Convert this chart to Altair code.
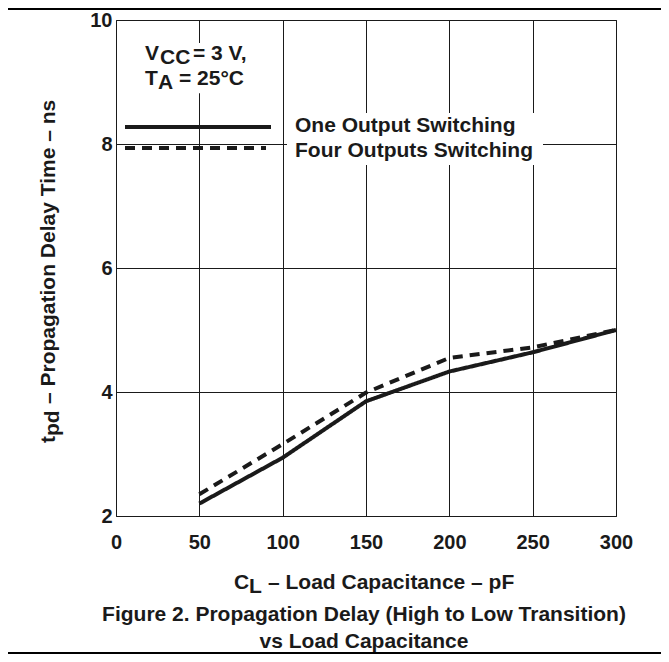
import altair as alt
import pandas as pd

# ---- data ----
cap_pf = [50, 100, 150, 200, 250, 300]
one_output = [2.20, 2.94, 3.85, 4.33, 4.64, 5.00]
four_outputs = [2.35, 3.16, 3.99, 4.55, 4.72, 5.00]

x_ticks = [0, 50, 100, 150, 200, 250, 300]
y_ticks = [2, 4, 6, 8, 10]

# legend sample lines (data coordinates)
leg_series = ["One Output Switching", "Four Outputs Switching"]
leg_x1 = [5.4, 5.4]
leg_x2 = [93.0, 90.0]
leg_y = [8.274, 7.935]

# white boxes behind annotation text (data coordinates)
box_x1 = [14.4, 102.6]
box_x2 = [83.4, 256.2]
box_y1 = [9.63, 8.50]
box_y2 = [8.82, 7.66]

FONT = "Liberation Sans"
INK = "#1a1a1a"
W, H = 500, 496

df = pd.DataFrame({
    "cap": cap_pf * 2,
    "tpd": one_output + four_outputs,
    "series": ["One Output Switching"] * len(cap_pf) + ["Four Outputs Switching"] * len(cap_pf),
})
leg_df = pd.DataFrame({"series": leg_series, "x1": leg_x1, "x2": leg_x2, "y": leg_y})
box_df = pd.DataFrame({"x1": box_x1, "x2": box_x2, "y1": box_y1, "y2": box_y2})

xs = alt.Scale(domain=[0, 300], nice=False, zero=False)
ys = alt.Scale(domain=[2, 10], nice=False, zero=False)

x_axis = alt.Axis(values=x_ticks, grid=True, gridColor=INK, gridWidth=1, gridOpacity=1,
                  domain=False, ticks=False, labelFont=FONT, labelFontSize=20,
                  labelFontWeight="bold", labelColor=INK, labelPadding=16,
                  labelFlush=False, labelOverlap=False, title=None)
y_axis = alt.Axis(values=y_ticks, grid=True, gridColor=INK, gridWidth=1, gridOpacity=1,
                  domain=False, ticks=False, labelFont=FONT, labelFontSize=20,
                  labelFontWeight="bold", labelColor=INK, labelPadding=4,
                  labelFlush=False, labelOverlap=False, title=None)

dash_scale = alt.Scale(domain=leg_series, range=[[1, 0], [10, 7]])

base = alt.Chart(df).mark_line(strokeWidth=4, color=INK, strokeCap="butt").encode(
    x=alt.X("cap:Q", scale=xs, axis=x_axis),
    y=alt.Y("tpd:Q", scale=ys, axis=y_axis),
    strokeDash=alt.StrokeDash("series:N", scale=dash_scale, legend=None),
    detail="series:N",
)

boxes = alt.Chart(box_df).mark_rect(fill="white", strokeWidth=0).encode(
    x=alt.X("x1:Q", scale=xs, axis=x_axis), x2="x2:Q",
    y=alt.Y("y1:Q", scale=ys, axis=y_axis), y2="y2:Q",
)

leg_lines = alt.Chart(leg_df).mark_rule(strokeWidth=4, color=INK).encode(
    x=alt.X("x1:Q", scale=xs, axis=x_axis), x2="x2:Q",
    y=alt.Y("y:Q", scale=ys, axis=y_axis),
    strokeDash=alt.StrokeDash("series:N", scale=dash_scale, legend=None),
)

def txt(s, x, y, size=21, angle=0, align="left"):
    return alt.Chart(pd.DataFrame({"t": [s]})).mark_text(
        font=FONT, fontSize=size, fontWeight="bold", color=INK,
        align=align, baseline="alphabetic", angle=angle,
    ).encode(text="t:N", x=alt.value(x), y=alt.value(y))

texts = [
    # conditions block
    txt("V", 29, 40), txt("CC", 44, 44), txt("= 3 V,", 77, 40),
    txt("T", 29, 65), txt("A", 42, 69), txt("= 25°C", 63, 65),
    # legend labels
    txt("One Output Switching", 179, 111.7),
    txt("Four Outputs Switching", 179, 136.7),
    # x axis title
    txt("C", 118, 569), txt("L", 133, 573), txt("– Load Capacitance – pF", 152, 569),
    # y axis title (rotated)
    txt("t", -61, 423, angle=270), txt("pd", -57, 416, angle=270),
    txt("– Propagation Delay Time – ns", -61, 384, angle=270),
    # figure caption
    txt("Figure 2. Propagation Delay (High to Low Transition)", 248, 601, align="center"),
    txt("vs Load Capacitance", 248, 628, align="center"),
]

def hline(ypix):
    return alt.Chart(pd.DataFrame({"k": [0]})).mark_rule(color="black", strokeWidth=2).encode(
        x=alt.value(-108), x2=alt.value(545), y=alt.value(ypix),
    )

chart = alt.layer(base, boxes, leg_lines, *texts, hline(-11), hline(633)).properties(
    width=W, height=H,
    autosize=alt.AutoSizeParams(type="none"),
    padding={"left": 108, "top": 12, "right": 45, "bottom": 138},
    background="white",
).configure_view(stroke=INK, strokeWidth=1)

chart.save("out.html", embed_options={"renderer": "svg", "actions": False})
